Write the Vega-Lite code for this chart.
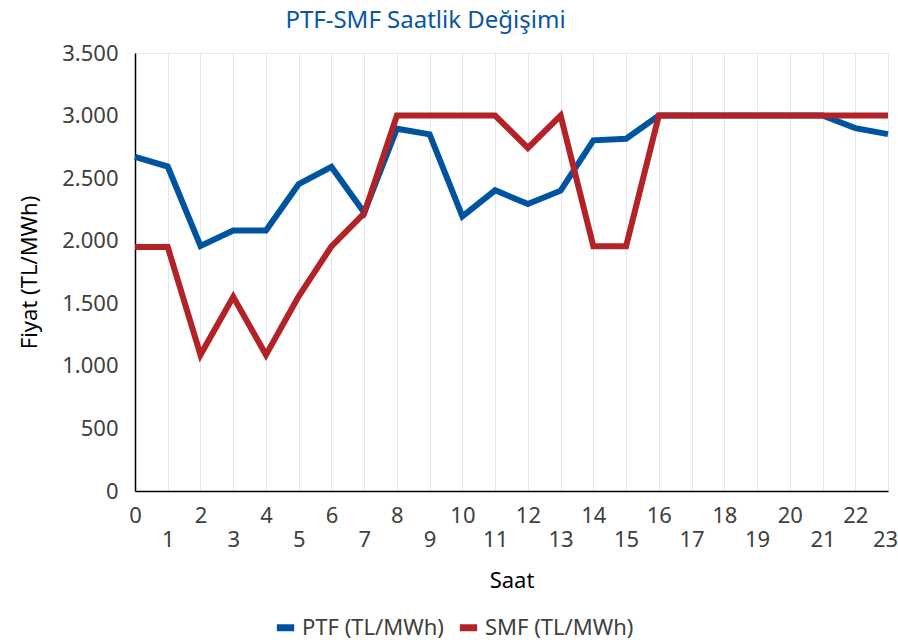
{
  "$schema": "https://vega.github.io/schema/vega-lite/v6.json",
  "width": 753,
  "height": 438,
  "autosize": {"type": "none"},
  "padding": {"left": 135, "top": 53, "right": 10, "bottom": 153},
  "background": "white",
  "config": {
    "font": "Noto Sans",
    "view": {"stroke": "#e6e6e6", "strokeWidth": 1}
  },
  "title": {
    "text": "PTF-SMF Saatlik Değişimi",
    "font": "Noto Sans",
    "fontSize": 24,
    "fontWeight": "normal",
    "color": "#0a56a4",
    "anchor": "middle",
    "dx": -86,
    "offset": 9
  },
  "data": {
    "values": [
      {"saat": 0, "seri": "PTF (TL/MWh)", "fiyat": 2670},
      {"saat": 1, "seri": "PTF (TL/MWh)", "fiyat": 2593},
      {"saat": 2, "seri": "PTF (TL/MWh)", "fiyat": 1958},
      {"saat": 3, "seri": "PTF (TL/MWh)", "fiyat": 2082},
      {"saat": 4, "seri": "PTF (TL/MWh)", "fiyat": 2082},
      {"saat": 5, "seri": "PTF (TL/MWh)", "fiyat": 2452},
      {"saat": 6, "seri": "PTF (TL/MWh)", "fiyat": 2590},
      {"saat": 7, "seri": "PTF (TL/MWh)", "fiyat": 2225},
      {"saat": 8, "seri": "PTF (TL/MWh)", "fiyat": 2895},
      {"saat": 9, "seri": "PTF (TL/MWh)", "fiyat": 2850},
      {"saat": 10, "seri": "PTF (TL/MWh)", "fiyat": 2195},
      {"saat": 11, "seri": "PTF (TL/MWh)", "fiyat": 2403},
      {"saat": 12, "seri": "PTF (TL/MWh)", "fiyat": 2293},
      {"saat": 13, "seri": "PTF (TL/MWh)", "fiyat": 2400},
      {"saat": 14, "seri": "PTF (TL/MWh)", "fiyat": 2802},
      {"saat": 15, "seri": "PTF (TL/MWh)", "fiyat": 2815},
      {"saat": 16, "seri": "PTF (TL/MWh)", "fiyat": 3000},
      {"saat": 17, "seri": "PTF (TL/MWh)", "fiyat": 3000},
      {"saat": 18, "seri": "PTF (TL/MWh)", "fiyat": 3000},
      {"saat": 19, "seri": "PTF (TL/MWh)", "fiyat": 3000},
      {"saat": 20, "seri": "PTF (TL/MWh)", "fiyat": 3000},
      {"saat": 21, "seri": "PTF (TL/MWh)", "fiyat": 3000},
      {"saat": 22, "seri": "PTF (TL/MWh)", "fiyat": 2900},
      {"saat": 23, "seri": "PTF (TL/MWh)", "fiyat": 2852},
      {"saat": 0, "seri": "SMF (TL/MWh)", "fiyat": 1950},
      {"saat": 1, "seri": "SMF (TL/MWh)", "fiyat": 1950},
      {"saat": 2, "seri": "SMF (TL/MWh)", "fiyat": 1088},
      {"saat": 3, "seri": "SMF (TL/MWh)", "fiyat": 1552},
      {"saat": 4, "seri": "SMF (TL/MWh)", "fiyat": 1088},
      {"saat": 5, "seri": "SMF (TL/MWh)", "fiyat": 1555},
      {"saat": 6, "seri": "SMF (TL/MWh)", "fiyat": 1955},
      {"saat": 7, "seri": "SMF (TL/MWh)", "fiyat": 2218},
      {"saat": 8, "seri": "SMF (TL/MWh)", "fiyat": 3000},
      {"saat": 9, "seri": "SMF (TL/MWh)", "fiyat": 3000},
      {"saat": 10, "seri": "SMF (TL/MWh)", "fiyat": 3000},
      {"saat": 11, "seri": "SMF (TL/MWh)", "fiyat": 3000},
      {"saat": 12, "seri": "SMF (TL/MWh)", "fiyat": 2741},
      {"saat": 13, "seri": "SMF (TL/MWh)", "fiyat": 3000},
      {"saat": 14, "seri": "SMF (TL/MWh)", "fiyat": 1955},
      {"saat": 15, "seri": "SMF (TL/MWh)", "fiyat": 1955},
      {"saat": 16, "seri": "SMF (TL/MWh)", "fiyat": 3000},
      {"saat": 17, "seri": "SMF (TL/MWh)", "fiyat": 3000},
      {"saat": 18, "seri": "SMF (TL/MWh)", "fiyat": 3000},
      {"saat": 19, "seri": "SMF (TL/MWh)", "fiyat": 3000},
      {"saat": 20, "seri": "SMF (TL/MWh)", "fiyat": 3000},
      {"saat": 21, "seri": "SMF (TL/MWh)", "fiyat": 3000},
      {"saat": 22, "seri": "SMF (TL/MWh)", "fiyat": 3000},
      {"saat": 23, "seri": "SMF (TL/MWh)", "fiyat": 3000}
    ]
  },
  "mark": {"type": "line", "strokeWidth": 6, "strokeJoin": "miter", "strokeCap": "butt"},
  "encoding": {
    "x": {
      "field": "saat",
      "type": "quantitative",
      "scale": {"domain": [0, 23], "nice": false, "zero": false},
      "axis": {
        "title": "Saat",
        "titleFont": "Noto Sans",
        "titleFontSize": 22,
        "titleFontWeight": "normal",
        "titleColor": "#000000",
        "titlePadding": 20,
        "values": [0,1,2,3,4,5,6,7,8,9,10,11,12,13,14,15,16,17,18,19,20,21,22,23],
        "format": "d",
        "labelFontSize": 22,
        "labelColor": "#404040",
        "labelPadding": {"condition": {"test": "datum.value % 2 === 1", "value": 38}, "value": 14},
        "labelOffset": {"condition": {"test": "datum.value === 23", "value": -3}, "value": 0},
        "labelOverlap": false,
        "labelFlush": false,
        "ticks": false,
        "domainColor": "#000000",
        "domainWidth": 1.5,
        "grid": true,
        "gridColor": "#e6e6e6",
        "gridWidth": 1
      }
    },
    "y": {
      "field": "fiyat",
      "type": "quantitative",
      "scale": {"domain": [0, 3500], "nice": false},
      "axis": {
        "title": "Fiyat (TL/MWh)",
        "titleFont": "Noto Sans",
        "titleFontSize": 22,
        "titleFontWeight": "normal",
        "titleColor": "#000000",
        "titlePadding": 20,
        "values": [0, 500, 1000, 1500, 2000, 2500, 3000, 3500],
        "labelExpr": "replace(format(datum.value, ','), ',', '.')",
        "labelFontSize": 22,
        "labelColor": "#404040",
        "labelPadding": 17,
        "ticks": false,
        "grid": false,
        "domainColor": "#000000",
        "domainWidth": 1.5
      }
    },
    "color": {
      "field": "seri",
      "type": "nominal",
      "scale": {"domain": ["PTF (TL/MWh)", "SMF (TL/MWh)"], "range": ["#00549f", "#b22226"]},
      "legend": {
        "title": null,
        "orient": "none",
        "direction": "horizontal",
        "legendX": 138,
        "legendY": 562,
        "labelFontSize": 22,
        "labelColor": "#404040",
        "symbolType": "stroke",
        "symbolStrokeWidth": 7,
        "symbolSize": 300,
        "columnPadding": 1
      }
    }
  }
}
